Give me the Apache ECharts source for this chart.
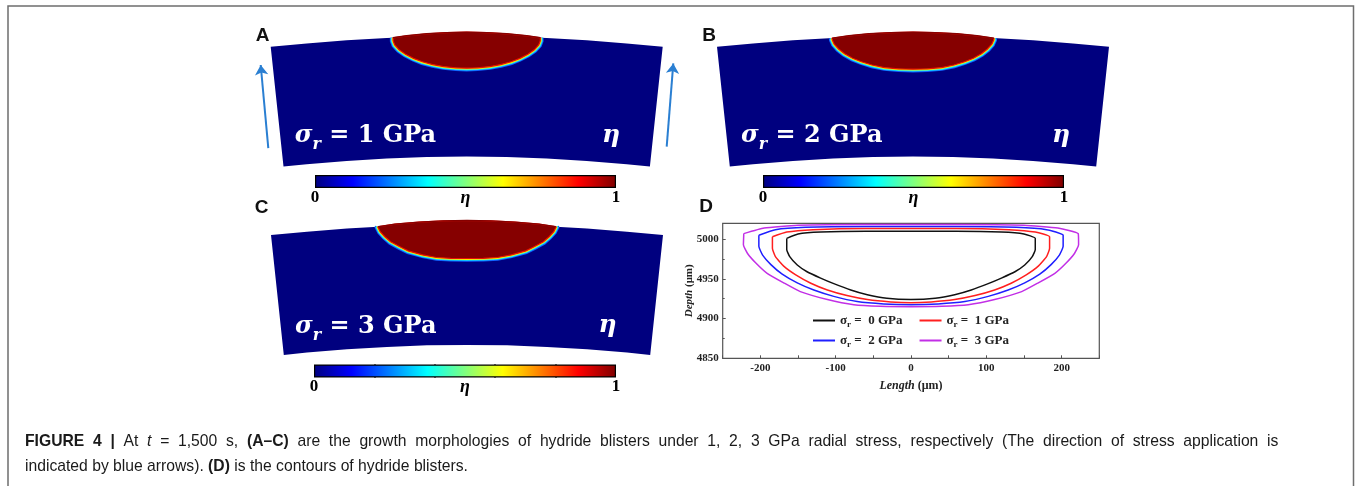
<!DOCTYPE html>
<html>
<head>
<meta charset="utf-8">
<script src="https://cdn.jsdelivr.net/npm/echarts@6/dist/echarts.min.js"></script>
<style>
  html, body { margin: 0; padding: 0; background: #fff; }
  #chart { width: 1356px; height: 486px; }
</style>
</head>
<body>
<div id="chart"></div>
<script>
// blister contours (x = length µm, y = depth µm)
const contour0 = [[-165,5001],[-165,4987],[-161,4978],[-151,4967.5],[-138,4959],[-120,4951],[-102.5,4944],[-80,4936],[-58,4930],[-32,4925.5],[0,4924],[32,4925.5],[58,4930],[80,4936],[102.5,4944],[120,4951],[138,4959],[151,4967.5],[161,4978],[165,4987],[165,5001],[150,5006.5],[120,5009],[60,5010],[0,5010],[-60,5010],[-120,5009],[-150,5006.5],[-165,5001]];
const contour1 = [[-184,5003],[-184,4988.5],[-180,4978],[-169,4966],[-153,4955],[-133,4944.5],[-111,4936],[-85,4929],[-58,4924],[-27,4921],[0,4920],[27,4921],[58,4924],[85,4929],[111,4936],[133,4944.5],[153,4955],[169,4966],[180,4978],[184,4988.5],[184,5003],[165,5009],[130,5012],[60,5013.5],[0,5013.5],[-60,5013.5],[-130,5012],[-165,5009],[-184,5003]];
const contour2 = [[-202,5005],[-202,4991],[-197,4980],[-186,4968],[-171,4956],[-151,4945],[-129,4936],[-102.5,4928],[-71.5,4921.5],[-36,4918.5],[0,4917.5],[36,4918.5],[71.5,4921.5],[102.5,4928],[129,4936],[151,4945],[171,4956],[186,4968],[197,4980],[202,4991],[202,5005],[180,5012],[140,5015],[60,5016],[0,5016],[-60,5016],[-140,5015],[-180,5012],[-202,5005]];
const contour3 = [[-222,5007],[-222.5,4993],[-217,4982],[-206,4970],[-191,4957],[-169,4945],[-147,4934],[-111,4924],[-76,4917.5],[-41,4915.5],[0,4915],[41,4915.5],[76,4917.5],[111,4924],[147,4934],[169,4945],[191,4957],[206,4970],[217,4982],[222.5,4993],[222,5007],[195,5014],[150,5017.5],[60,5018.5],[0,5018.5],[-60,5018.5],[-150,5017.5],[-195,5014],[-222,5007]];
const stressNames = ['0 GPa', '1 GPa', '2 GPa', '3 GPa'];

// curved zirconium slab of panels A-C (same µm units)
const slabTop = [[-490,4973.5],[-400,4982],[-300,4990],[-200,4995.5],[-100,4999],[0,5000],[100,4999],[200,4995.5],[300,4990],[400,4982],[490,4973.5]];
const slabBottom = [[458,4674],[400,4680],[300,4688],[200,4694],[100,4698],[0,4699],[-100,4698],[-200,4694],[-300,4688],[-400,4680],[-458,4674]];
// bulged top of the blister in panels A, B, C (right to left)
const blisterTop1 = [[184,4996],[150,5001],[100,5006],[50,5009],[0,5010],[-50,5009],[-100,5006],[-150,5001],[-184,4996]];
const blisterTop2 = [[202,4995],[160,5001],[110,5006],[55,5009],[0,5010],[-55,5009],[-110,5006],[-160,5001],[-202,4995]];
const blisterTop3 = [[222,4994.5],[180,5001],[120,5006],[60,5009],[0,5010],[-60,5009],[-120,5006],[-180,5001],[-222,4994.5]];
// radial stress arrows in panel A
const stressArrows = [[[-496,4720],[-515,4928]], [[500,4724],[516.5,4932]]];

const jetColors = ['#00007f','#0000ff','#007fff','#00ffff','#7fff7f','#ffff00','#ff7f00','#ff0000','#7f0000'];
const lineColors = ['#111111', '#ff1f1f', '#1f1fff', '#c22fe6'];

const chart = echarts.init(document.getElementById('chart'));

const serif = 'Liberation Serif';
const mathFont = 'DejaVu Serif';

// panel A, B, C placement (centre x, grid top)
const panels = [
  { cx: 466.7, top: 12.2, blister: contour1, cap: blisterTop1, level: '1', etaX: 611, textY: 135 },
  { cx: 913, top: 12.2, blister: contour2, cap: blisterTop2, level: '2', etaX: 1061, textY: 135 },
  { cx: 467, top: 200.5, blister: contour3, cap: blisterTop3, level: '3', etaX: 607.5, textY: 325.5 }
];
const colorbars = [
  { left: 315, top: 175, width: 301 },
  { left: 763, top: 175, width: 301 },
  { left: 314, top: 364.5, width: 302 }
];

function blisterItem(blister, cap) {
  return function (params, api) {
    const slab = slabTop.concat(slabBottom).map(p => api.coord(p));
    const cut = cap[0][1];
    const lower = blister.slice(0, -1).filter(p => p[1] < cut);
    const rimPts = [cap[cap.length - 1]].concat(lower, [cap[0]]).map(p => api.coord(p));
    const loop = lower.concat(cap).map(p => api.coord(p));
    return {
      type: 'group',
      children: [
        { type: 'polygon', shape: { points: slab }, style: { fill: '#00007f' } },
        { type: 'polyline', shape: { points: rimPts }, style: { stroke: '#1060ff', lineWidth: 6.5, fill: null } },
        { type: 'polyline', shape: { points: rimPts }, style: { stroke: '#10e8ff', lineWidth: 4.6, fill: null } },
        { type: 'polyline', shape: { points: rimPts }, style: { stroke: '#f4f000', lineWidth: 2.8, fill: null } },
        { type: 'polygon', shape: { points: loop }, style: { fill: '#860000', stroke: '#e81000', lineWidth: 1.2 } },
        { type: 'polyline', shape: { points: cap.map(p => api.coord(p)) }, style: { stroke: '#860000', lineWidth: 1.4, fill: null } }
      ]
    };
  };
}

const grid = [], xAxis = [], yAxis = [], series = [], graphic = [];

panels.forEach((p, i) => {
  grid.push({ left: p.cx - 240, top: p.top, width: 480, height: 200 });
  xAxis.push({ gridIndex: i, type: 'value', min: -600, max: 600, show: false });
  yAxis.push({ gridIndex: i, type: 'value', min: 4560, max: 5060, show: false });
  series.push({
    type: 'custom', xAxisIndex: i, yAxisIndex: i, silent: true,
    data: [[0, 5000]],
    renderItem: blisterItem(p.blister, p.cap)
  });
});

series.push({
  type: 'lines', coordinateSystem: 'cartesian2d', xAxisIndex: 0, yAxisIndex: 0,
  symbol: ['none', 'arrow'], symbolSize: 10,
  lineStyle: { color: '#2a7fd2', width: 2, opacity: 1 },
  data: stressArrows.map(c => ({ coords: c }))
});

// colour bars
colorbars.forEach(c => {
  const g = grid.length;
  grid.push({ left: c.left, top: c.top, width: c.width, height: 13 });
  xAxis.push({
    gridIndex: g, type: 'value', min: 0, max: 1, interval: 0.2, position: 'bottom',
    axisLine: { show: false, onZero: false }, splitLine: { show: false },
    axisTick: { show: true, inside: true, length: 2.5, customValues: [0.2, 0.4, 0.6, 0.8], lineStyle: { color: '#000', width: 2 } },
    axisLabel: {
      margin: 1, color: '#000', fontFamily: serif, fontWeight: 'bold', fontSize: 17,
      formatter: v => (Math.abs(v) < 1e-6 ? '0' : Math.abs(v - 1) < 1e-6 ? '1' : '')
    },
    name: 'η', nameLocation: 'middle', nameGap: 1, nameMoveOverlap: false,
    nameTextStyle: { fontFamily: serif, fontStyle: 'italic', fontWeight: 'bold', fontSize: 18, color: '#000' }
  });
  xAxis.push({
    gridIndex: g, type: 'value', min: 0, max: 1, interval: 0.2, position: 'top',
    axisLine: { show: false, onZero: false }, splitLine: { show: false }, axisLabel: { show: false },
    axisTick: { show: true, inside: true, length: 2.5, customValues: [0.2, 0.4, 0.6, 0.8], lineStyle: { color: '#000', width: 2 } }
  });
  yAxis.push({ gridIndex: g, type: 'category', data: ['η'], show: false });
  series.push({
    type: 'bar', xAxisIndex: xAxis.length - 2, yAxisIndex: yAxis.length - 1,
    barWidth: '100%', silent: true, z: 1,
    data: [1],
    itemStyle: {
      color: new echarts.graphic.LinearGradient(0, 0, 1, 0,
        jetColors.map((col, i) => ({ offset: i / (jetColors.length - 1), color: col }))),
      borderColor: '#000', borderWidth: 1.2
    }
  });
});

// panel D
const gD = grid.length;
grid.push({ left: 722.7, top: 223.3, width: 376.6, height: 135, show: true, borderColor: '#555', borderWidth: 1.2, backgroundColor: 'transparent' });
const axisFont = { fontFamily: serif, fontWeight: 'bold', fontSize: 11, color: '#222' };
xAxis.push({
  gridIndex: gD, type: 'value', min: -250, max: 250, interval: 50,
  axisLine: { show: false, onZero: false }, splitLine: { show: false },
  axisTick: { inside: true, length: 3, lineStyle: { color: '#555' } },
  axisLabel: Object.assign({ margin: 4, formatter: v => (v % 100 === 0 ? String(v) : '') }, axisFont),
  name: '{i|Length} (μm)', nameLocation: 'middle', nameGap: 22, nameMoveOverlap: false,
  nameTextStyle: { fontFamily: serif, fontWeight: 'bold', fontSize: 12, color: '#222', rich: { i: { fontFamily: serif, fontWeight: 'bold', fontStyle: 'italic', fontSize: 12, color: '#222' } } }
});
yAxis.push({
  gridIndex: gD, type: 'value', min: 4850, max: 5020, interval: 50,
  axisLine: { show: false, onZero: false }, splitLine: { show: false },
  axisTick: { inside: true, length: 3, lineStyle: { color: '#555' } },
  minorTick: { show: true, splitNumber: 2, length: 2, lineStyle: { color: '#555' } },
  axisLabel: Object.assign({ margin: 4, formatter: v => (v % 50 === 0 ? String(v) : '') }, axisFont),
  name: '{i|Depth} (μm)', nameLocation: 'middle', nameGap: 28, nameMoveOverlap: false,
  nameTextStyle: { fontFamily: serif, fontWeight: 'bold', fontSize: 11, color: '#222', rich: { i: { fontFamily: serif, fontWeight: 'bold', fontStyle: 'italic', fontSize: 11, color: '#222' } } }
});
[contour0, contour1, contour2, contour3].forEach((c, i) => {
  series.push({
    name: stressNames[i], type: 'line', xAxisIndex: xAxis.length - 1, yAxisIndex: yAxis.length - 1,
    data: c, symbol: 'none', smooth: 0.15, silent: true,
    lineStyle: { color: lineColors[i], width: 1.5 }, itemStyle: { color: lineColors[i] }
  });
});

const legendText = {
  fontFamily: serif, fontWeight: 'bold', fontSize: 13, color: '#222',
  rich: {
    s: { fontFamily: serif, fontWeight: 'bold', fontSize: 13, color: '#222', lineHeight: 18 },
    r: { fontFamily: serif, fontWeight: 'bold', fontSize: 9, color: '#222', lineHeight: 11, verticalAlign: 'bottom' }
  }
};
const legendBase = {
  left: 813, padding: 0, icon: 'rect', itemWidth: 22, itemHeight: 2, itemGap: 17, selectedMode: false,
  formatter: n => '{s|σ}{r|r}{s| =  ' + n + '}', textStyle: legendText
};

// panel texts
const mathRich = {
  s: { fontFamily: mathFont, fontStyle: 'italic', fontWeight: 'bold', fontSize: 24, fill: '#fff', lineHeight: 34 },
  r: { fontFamily: mathFont, fontStyle: 'italic', fontWeight: 'bold', fontSize: 16, fill: '#fff', lineHeight: 20, verticalAlign: 'bottom' },
  t: { fontFamily: mathFont, fontWeight: 'bold', fontSize: 24, fill: '#fff', lineHeight: 34 }
};
panels.forEach(p => {
  graphic.push({
    type: 'text', x: p.cx - 172, y: p.textY + 1, z: 50,
    style: { text: '{s|σ}{r|r}{t| = ' + p.level + ' GPa}', rich: mathRich, verticalAlign: 'middle', fill: '#fff' }
  });
  graphic.push({
    type: 'text', x: p.etaX, y: p.textY, z: 50,
    style: { text: 'η', font: 'italic bold 25px "DejaVu Serif"', fill: '#fff', align: 'center', verticalAlign: 'middle' }
  });
});
[['A', 262.5, 36], ['B', 709, 36], ['C', 261.5, 207.5], ['D', 706, 206.5]].forEach(l => {
  graphic.push({
    type: 'text', x: l[1], y: l[2], z: 50,
    style: { text: l[0], font: 'bold 19px "Liberation Sans"', fill: '#111', align: 'center', verticalAlign: 'middle' }
  });
});

// frame and caption (first line is justified in the source, hence the wider word gaps)
graphic.push({ type: 'rect', shape: { x: 8, y: 6, width: 1345.5, height: 520 }, style: { fill: null, stroke: '#6e6e6e', lineWidth: 1.5 }, z: 0 });
const capSize = 15.7;
const capRich = {
  b: { fontFamily: 'Liberation Sans', fontWeight: 'bold', fontSize: capSize, fill: '#1a1a1a' },
  n: { fontFamily: 'Liberation Sans', fontSize: capSize, fill: '#1a1a1a' },
  i: { fontFamily: 'Liberation Sans', fontStyle: 'italic', fontSize: capSize, fill: '#1a1a1a' }
};
const capLine1 = 'are the growth morphologies of hydride blisters under 1, 2, 3 GPa radial stress, respectively (The direction of stress application is';
graphic.push({
  type: 'text', x: 25, y: 441.5, z: 50,
  style: {
    text: '{b|FIGURE  4  |}{n|  At  }{i|t}{n|  =  1,500  s,  }{b|(A–C)}{n|  ' + capLine1.split(' ').join('  ') + '}',
    rich: capRich, verticalAlign: 'middle'
  }
});
graphic.push({
  type: 'text', x: 25, y: 467, z: 50,
  style: { text: '{n|indicated by blue arrows). }{b|(D)}{n| is the contours of hydride blisters.}', rich: capRich, verticalAlign: 'middle' }
});

chart.setOption({
  animation: false,
  grid, xAxis, yAxis, series, graphic,
  legend: [
    Object.assign({ top: 314, data: stressNames.slice(0, 2) }, legendBase),
    Object.assign({ top: 334, data: stressNames.slice(2) }, legendBase)
  ]
});
</script>
</body>
</html>
